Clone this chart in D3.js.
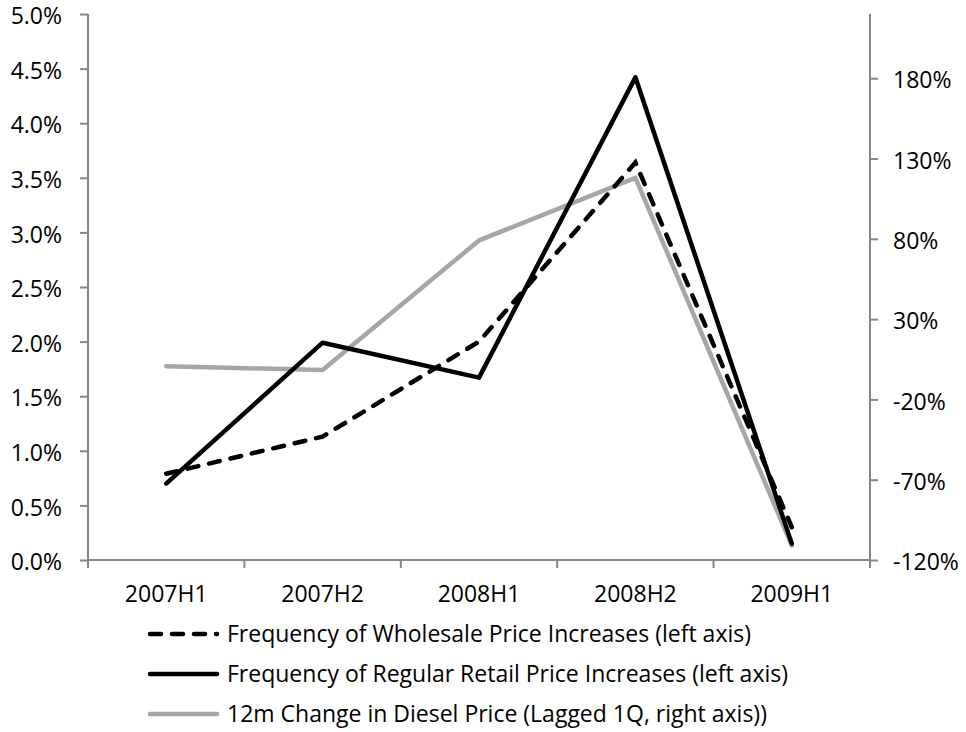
<!DOCTYPE html>
<html><head><meta charset="utf-8">
<script src="https://cdn.jsdelivr.net/npm/d3@7"></script>
<style>body{margin:0;background:#fff}svg{display:block}text{font-family:"Open Sans",sans-serif;fill:#000}</style>
</head><body><svg id="c" width="966" height="732"></svg>
<script>
const categories = ["2007H1","2007H2","2008H1","2008H2","2009H1"];
const wholesale = [0.79, 1.13, 2.00, 3.64, 0.30];
const retail = [0.70, 1.99, 1.67, 4.42, 0.15];
const diesel = [0.7, -1.7, 79, 118, -111];
const leftTicks = [0,0.5,1,1.5,2,2.5,3,3.5,4,4.5,5];
const rightTicks = [-120,-70,-20,30,80,130,180];
const seriesNames = ["Frequency of Wholesale Price Increases (left axis)","Frequency of Regular Retail Price Increases (left axis)","12m Change in Diesel Price (Lagged 1Q, right axis))"];

const FS = "23px";
const svg = d3.select("#c");
const L=88, R=870, T=14, B=560;
const x = d3.scaleBand().domain(categories).range([L,R]);
const yL = d3.scaleLinear().domain([0,5]).range([B,T]);
const yR = d3.scaleLinear().domain([-120,220]).range([B,T]);
const axisCol = "#868686";

const gl = svg.append("g").attr("transform",`translate(${L},0)`)
  .call(d3.axisLeft(yL).tickValues(leftTicks).tickFormat(d=>d.toFixed(1)+"%").tickSize(8).tickPadding(18));
gl.selectAll("text").style("font-size",FS).attr("dy","0.42em");
const gr = svg.append("g").attr("transform",`translate(${R},0)`)
  .call(d3.axisRight(yR).tickValues(rightTicks).tickFormat(d=>d+"%").tickSize(8).tickPadding(15));
gr.selectAll("text").style("font-size",FS).attr("dy","0.42em");
const bounds = categories.map(c=>x(c)).concat([R]);
const gb = svg.append("g").attr("transform",`translate(0,${B})`);
gb.append("line").attr("x1",L).attr("x2",R).attr("y1",0).attr("y2",0);
gb.selectAll("line.t").data(bounds).join("line").attr("class","t")
  .attr("x1",d=>d).attr("x2",d=>d).attr("y1",0).attr("y2",8);
gb.selectAll("text").data(categories).join("text")
  .attr("x",d=>x(d)+x.bandwidth()/2).attr("y",42).attr("text-anchor","middle")
  .style("font-size",FS).text(d=>d);
[gl,gr,gb].forEach(g=>{g.selectAll("path.domain,line").attr("stroke",axisCol).attr("stroke-width",2);g.select("path.domain").attr("fill","none");});
gl.select("path.domain").attr("d",`M0,${T}V${B}`);
gr.select("path.domain").attr("d",`M0,${T}V${B}`);
gl.selectAll("text").attr("fill","#000");gr.selectAll("text").attr("fill","#000");

const cx = d=>x(d)+x.bandwidth()/2;
const lineL = d3.line().x((d,i)=>cx(categories[i])).y(d=>yL(d));
const lineR = d3.line().x((d,i)=>cx(categories[i])).y(d=>yR(d));

svg.append("path").attr("d",lineR(diesel)).attr("fill","none").attr("stroke","#a6a6a6").attr("stroke-width",4.5).attr("stroke-linejoin","round").attr("stroke-linecap","round");
svg.append("path").attr("d",lineL(retail)).attr("fill","none").attr("stroke","#000").attr("stroke-width",4.5).attr("stroke-linejoin","round").attr("stroke-linecap","round");
svg.append("path").attr("d",lineL(wholesale)).attr("fill","none").attr("stroke","#000").attr("stroke-width",4.5).attr("stroke-dasharray","11,11").attr("stroke-linecap","round");

const styles = [
  {c:"#000",dash:"11,11"},
  {c:"#000",dash:null},
  {c:"#a6a6a6",dash:null}
];
const lg = svg.append("g");
seriesNames.forEach((n,i)=>{
  const yy = 634 + i*40;
  const ln = lg.append("line").attr("x1",150).attr("x2",217).attr("y1",yy).attr("y2",yy)
    .attr("stroke",styles[i].c).attr("stroke-width",4.5).attr("stroke-linecap","round");
  if(styles[i].dash) ln.attr("stroke-dasharray",styles[i].dash);
  lg.append("text").attr("x",227).attr("y",yy+8).style("font-size",FS).text(n);
});
</script></body></html>
